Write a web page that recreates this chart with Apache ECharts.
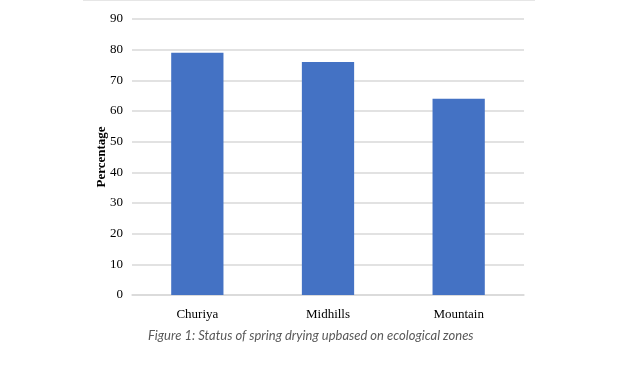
<!DOCTYPE html>
<html>
<head>
<meta charset="utf-8">
<script src="https://cdn.jsdelivr.net/npm/echarts@6/dist/echarts.min.js"></script>
<style>
html,body{margin:0;padding:0;background:#fff;}
#chart{width:617px;height:366px;}
</style>
</head>
<body>
<div id="chart"></div>
<script>
var categories = ['Churiya', 'Midhills', 'Mountain'];
var values = [79, 76, 64];
var yTicks = [0, 10, 20, 30, 40, 50, 60, 70, 80, 90];
var yAxisName = 'Percentage';
var caption = 'Figure 1: Status of spring drying upbased on ecological zones';

var serif = 'Liberation Serif';
var chart = echarts.init(document.getElementById('chart'), null, {renderer: 'canvas'});
chart.setOption({
  animation: false,
  backgroundColor: '#ffffff',
  textStyle: {fontFamily: serif},
  grid: {left: 132, right: 93, top: 19, bottom: 71, containLabel: false},
  xAxis: {
    type: 'category',
    data: categories,
    axisLine: {show: true, lineStyle: {color: '#d9d9d9', width: 1.5}},
    axisTick: {show: false},
    axisLabel: {color: '#000', fontFamily: serif, fontSize: 13, margin: 13}
  },
  yAxis: {
    type: 'value',
    min: yTicks[0],
    max: yTicks[yTicks.length - 1],
    interval: 10,
    name: yAxisName,
    nameLocation: 'middle',
    nameGap: 24,
    nameMoveOverlap: false,
    nameTextStyle: {color: '#000', fontFamily: serif, fontSize: 13, fontWeight: 'bold'},
    axisLine: {show: false},
    axisTick: {show: false},
    axisLabel: {color: '#000', fontFamily: serif, fontSize: 13, margin: 9},
    splitLine: {show: true, lineStyle: {color: '#d9d9d9', width: 1.5}}
  },
  series: [{
    type: 'bar',
    data: values,
    barWidth: '40%',
    itemStyle: {color: '#4472c4'}
  }],
  graphic: [
    {type: 'line', shape: {x1: 83, y1: 0.5, x2: 535, y2: 0.5}, style: {stroke: '#e6e6e6', lineWidth: 1}},
    {type: 'text', left: 148, top: 329, style: {text: caption, fill: '#595959', font: 'italic 13px Lato'}}
  ]
});
</script>
</body>
</html>
